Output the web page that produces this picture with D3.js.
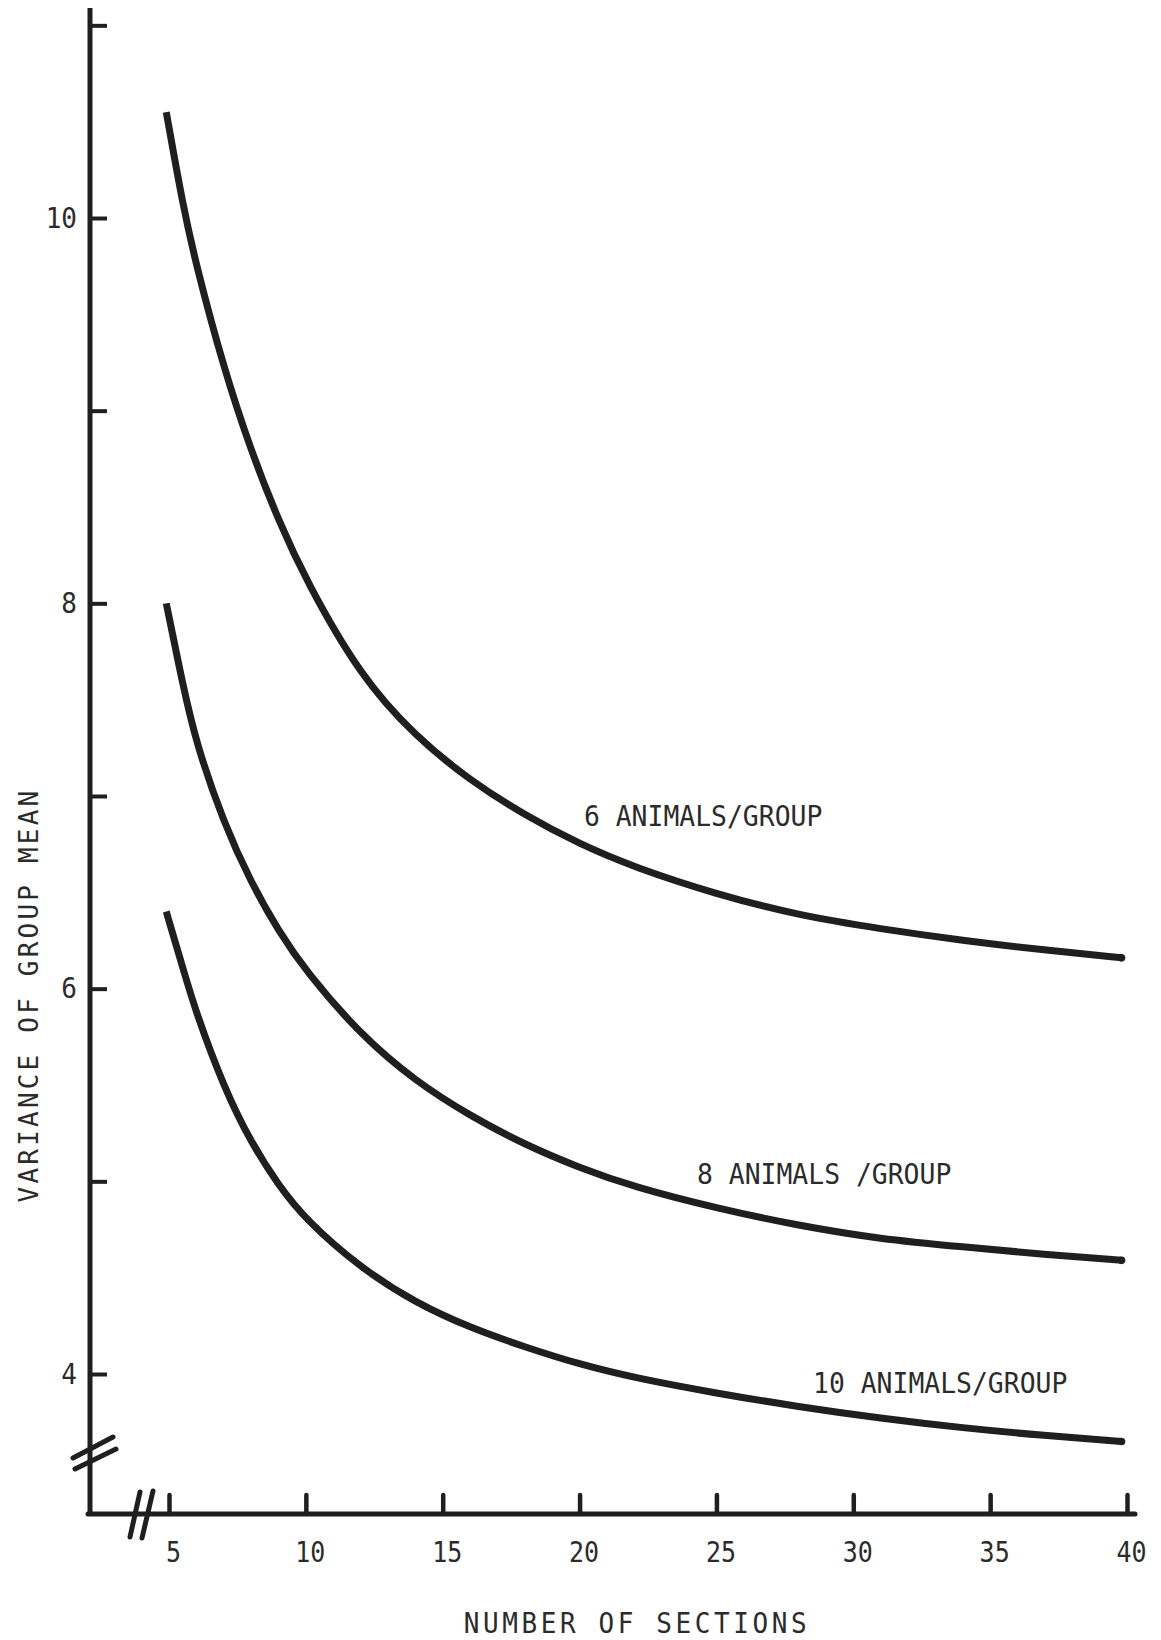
<!DOCTYPE html>
<html><head><meta charset="utf-8">
<script src="https://cdn.jsdelivr.net/npm/d3@7"></script>
<style>
html,body{margin:0;padding:0;background:#fff;}
svg text{font-family:"DejaVu Sans Mono",monospace;fill:#2b2b2b;}
.tall{transform-box:fill-box;transform-origin:center;transform:scaleY(1.1);}
</style></head><body>
<svg id="chart" width="1161" height="1640"></svg>
<script>
// ---- data ----
const sections = [4.9, 5.5, 6, 7, 8, 9, 10, 12, 14, 16, 18, 20, 22, 25, 28, 31, 34, 37, 39.8];
const variance6  = [10.55, 10.07, 9.75, 9.22, 8.79, 8.43, 8.12, 7.62, 7.31, 7.08, 6.90, 6.75, 6.63, 6.49, 6.38, 6.31, 6.25, 6.20, 6.16];
const variance8  = [8.00, 7.58, 7.27, 6.86, 6.55, 6.30, 6.09, 5.76, 5.52, 5.34, 5.19, 5.07, 4.97, 4.86, 4.77, 4.70, 4.66, 4.62, 4.59];
const variance10 = [6.40, 6.11, 5.87, 5.49, 5.20, 4.98, 4.80, 4.55, 4.37, 4.24, 4.14, 4.05, 3.98, 3.90, 3.83, 3.77, 3.72, 3.68, 3.65];
const seriesNames = ["6 ANIMALS/GROUP", "8 ANIMALS /GROUP", "10 ANIMALS/GROUP"];
const xTicks = [5, 10, 15, 20, 25, 30, 35, 40];
const yTicks = [4, 5, 6, 7, 8, 9, 10, 11];
const yTickLabels = [4, 6, 8, 10];
const xTitle = "NUMBER OF SECTIONS";
const yTitle = "VARIANCE OF GROUP MEAN";

// ---- layout ----
const svg = d3.select("#chart");
const ink = "#1f1f1f";
const x = d3.scaleLinear().domain([5, 40]).range([169, 1127]);
const y = d3.scaleLinear().domain([4, 10]).range([1374, 218]);
const axisX = 90, axisY = 1514;

// label anchors (data units)
const labelAnchors = [[20.16, 6.85], [24.29, 4.99], [28.53, 3.907]];

// y axis line
svg.append("line").attr("x1", axisX).attr("x2", axisX).attr("y1", 8).attr("y2", axisY)
  .attr("stroke", ink).attr("stroke-width", 5);
// x axis line
svg.append("line").attr("x1", axisX - 2).attr("x2", 1135).attr("y1", axisY).attr("y2", axisY)
  .attr("stroke", ink).attr("stroke-width", 5).attr("stroke-linecap", "round");

// y ticks (inside, to the right)
const gy = svg.append("g").attr("transform", `translate(${axisX},0)`)
  .call(d3.axisRight(y).tickValues(yTicks).tickSize(17).tickFormat(""));
gy.select(".domain").remove();
gy.selectAll(".tick line").attr("stroke", ink).attr("stroke-width", 4);

// y tick labels
const gyl = svg.append("g").attr("transform", `translate(${axisX - 13},0)`)
  .call(d3.axisLeft(y).tickValues(yTickLabels).tickSize(0).tickPadding(0).tickFormat(d3.format("d")));
gyl.select(".domain").remove();
gyl.selectAll("text").attr("font-size", 26).attr("fill", "#2b2b2b").attr("class", "tall")
  .style("font-family", '"DejaVu Sans Mono", monospace');

// x ticks (pointing up)
const gx = svg.append("g").attr("transform", `translate(0,${axisY})`)
  .call(d3.axisTop(x).tickValues(xTicks).tickSize(19).tickFormat(""));
gx.select(".domain").remove();
gx.selectAll(".tick line").attr("stroke", ink).attr("stroke-width", 4.5).attr("stroke-linecap", "round");

// x tick labels
const gxl = svg.append("g").attr("transform", `translate(4,${axisY + 29})`)
  .call(d3.axisBottom(x).tickValues(xTicks).tickSize(0).tickPadding(0).tickFormat(d3.format("d")));
gxl.select(".domain").remove();
gxl.selectAll("text").attr("font-size", 25).attr("fill", "#2b2b2b").attr("class", "tall")
  .style("font-family", '"DejaVu Sans Mono", monospace');

// axis breaks
const brk = svg.append("g").attr("stroke", ink).attr("stroke-width", 5).attr("stroke-linecap", "round");
brk.append("line").attr("x1", 73).attr("y1", 1458).attr("x2", 113).attr("y2", 1437);
brk.append("line").attr("x1", 75).attr("y1", 1469).attr("x2", 116).attr("y2", 1449);
brk.append("line").attr("x1", 130).attr("y1", 1537).attr("x2", 140).attr("y2", 1492);
brk.append("line").attr("x1", 142).attr("y1", 1538).attr("x2", 153).attr("y2", 1491);

// curves
const line = d3.line().x(d => x(d[0])).y(d => y(d[1])).curve(d3.curveBasis);
[variance6, variance8, variance10].forEach((vals, i) => {
  const pts = sections.map((s, j) => [s, vals[j]]);
  svg.append("path").attr("d", line(pts)).attr("fill", "none")
    .attr("stroke", ink).attr("stroke-width", 7).attr("stroke-linecap", "butt");
  const last = pts[pts.length - 1];
  svg.append("circle").attr("cx", x(last[0])).attr("cy", y(last[1])).attr("r", 3.8).attr("fill", ink);
  svg.append("text").attr("class", "tall")
    .attr("x", x(labelAnchors[i][0])).attr("y", y(labelAnchors[i][1]))
    .attr("font-size", 26.4).text(seriesNames[i]);
});

// axis titles
svg.append("text").attr("class", "tall").attr("x", 637).attr("y", 1632)
  .attr("text-anchor", "middle").attr("font-size", 26).attr("letter-spacing", 3.6).text(xTitle);
svg.append("text").attr("x", 0).attr("y", 0)
  .attr("transform", "translate(38,995) rotate(-90)")
  .attr("text-anchor", "middle").attr("font-size", 26).attr("letter-spacing", 3.2).text(yTitle);
</script>
</body></html>
